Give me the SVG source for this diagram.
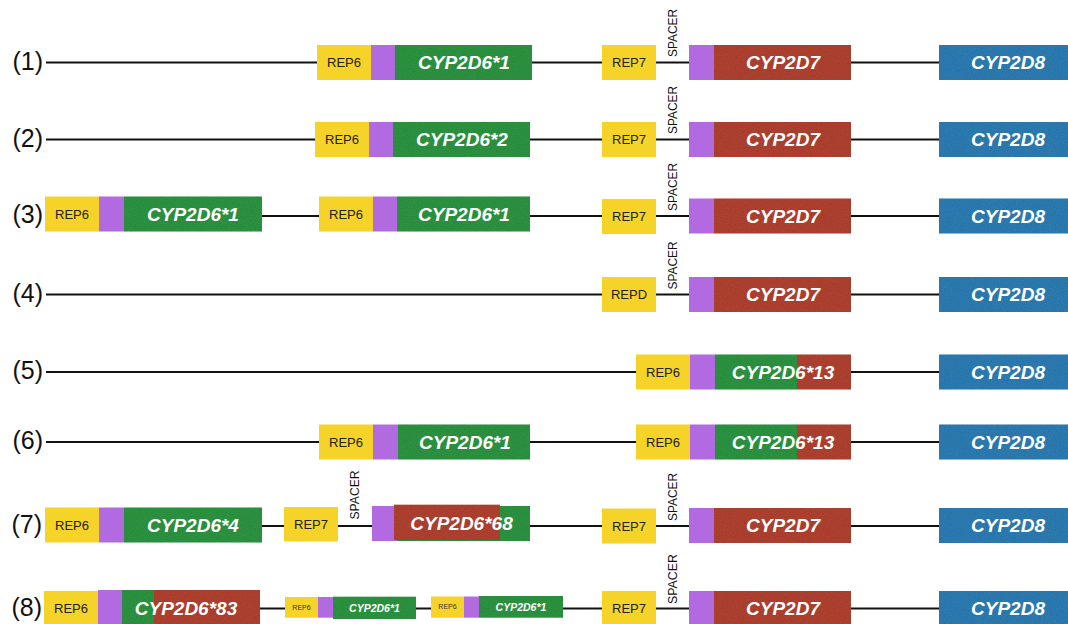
<svg xmlns="http://www.w3.org/2000/svg" width="1068" height="624" viewBox="0 0 1068 624">
  <defs>
    <!-- light grain on the gene blocks -->
    <filter id="grain" x="0" y="0" width="1" height="1">
      <feTurbulence type="fractalNoise" baseFrequency="0.85" numOctaves="2" seed="7" result="noise"/>
      <feColorMatrix in="noise" type="matrix" values="0 0 0 0 0  0 0 0 0 0  0 0 0 0 0  0.35 0 0 0 -0.1" result="speck"/>
      <feComposite in="speck" in2="SourceGraphic" operator="in" result="clip"/>
      <feMerge><feMergeNode in="SourceGraphic"/><feMergeNode in="clip"/></feMerge>
    </filter>
  </defs>
  <style>
    text { font-family: "Liberation Sans", Arial, Helvetica, sans-serif; }
    .row { font-size: 25px; fill: #111; text-anchor: end; }
    .rep { fill: #f5d328; }
    .lnk { fill: #b26ae1; }
    .g6 { fill: #2f9442; filter: url(#grain); }
    .d7 { fill: #b04332; filter: url(#grain); }
    .d8 { fill: #2f7db3; filter: url(#grain); }
    .rt { font-size: 13px; fill: #222; text-anchor: middle; }
    .rts { font-size: 7px; fill: #333; text-anchor: middle; }
    .gt { font-size: 19px; font-weight: bold; font-style: italic; fill: #fff; text-anchor: middle; }
    .gts { font-size: 10.5px; font-weight: bold; font-style: italic; fill: #fff; text-anchor: middle; }
    .sp { font-size: 13px; fill: #111; text-anchor: start; }
    .wire { stroke: #111; stroke-width: 2.2; fill: none; }
  </style>
  <rect width="1068" height="624" fill="#fff"/>

  <!-- row numbers -->
  <g id="row-labels">
    <text class="row" x="43" y="69.5">(1)</text>
    <text class="row" x="43" y="146.5">(2)</text>
    <text class="row" x="43" y="223">(3)</text>
    <text class="row" x="43" y="301.5">(4)</text>
    <text class="row" x="43" y="379">(5)</text>
    <text class="row" x="43" y="449">(6)</text>
    <text class="row" x="42" y="533">(7)</text>
    <text class="row" x="42" y="615.5">(8)</text>
  </g>

  <!-- backbone lines, drawn under the blocks -->
  <g id="connectors">
    <line class="wire" x1="46" y1="62.5" x2="940" y2="62.5"/>
    <line class="wire" x1="46" y1="139.5" x2="940" y2="139.5"/>
    <line class="wire" x1="60" y1="216" x2="940" y2="216"/>
    <line class="wire" x1="46" y1="294.5" x2="940" y2="294.5"/>
    <line class="wire" x1="46" y1="372" x2="940" y2="372"/>
    <line class="wire" x1="46" y1="442" x2="940" y2="442"/>
    <line class="wire" x1="60" y1="526" x2="940" y2="526"/>
    <line class="wire" x1="60" y1="608.5" x2="940" y2="608.5"/>
  </g>

  <!-- row 1 -->
  <g id="r1-rep6"><rect class="rep" x="317" y="45" width="54" height="35"/><text class="rt" x="344" y="67">REP6</text></g>
  <g id="r1-cyp2d6"><rect class="lnk" x="371" y="45" width="24" height="35"/><rect class="g6" x="395" y="45" width="137" height="35"/><text class="gt" x="464" y="69.3">CYP2D6*1</text></g>
  <g id="r1-rep7"><rect class="rep" x="602" y="45" width="54" height="35"/><text class="rt" x="629" y="67">REP7</text></g>
  <g id="r1-spacer"><text class="sp" transform="translate(676.5 57) rotate(-90)" textLength="48" lengthAdjust="spacingAndGlyphs">SPACER</text></g>
  <g id="r1-cyp2d7"><rect class="lnk" x="689" y="45" width="25" height="35"/><rect class="d7" x="714" y="45" width="137" height="35"/><text class="gt" x="783" y="69.3">CYP2D7</text></g>
  <g id="r1-cyp2d8"><rect class="d8" x="939" y="45" width="129" height="35"/><text class="gt" x="1008" y="69.3">CYP2D8</text></g>

  <!-- row 2 -->
  <g id="r2-rep6"><rect class="rep" x="315" y="122" width="54" height="35"/><text class="rt" x="342" y="144">REP6</text></g>
  <g id="r2-cyp2d6"><rect class="lnk" x="369" y="122" width="24" height="35"/><rect class="g6" x="393" y="122" width="137" height="35"/><text class="gt" x="462" y="146.3">CYP2D6*2</text></g>
  <g id="r2-rep7"><rect class="rep" x="602" y="122" width="54" height="35"/><text class="rt" x="629" y="144">REP7</text></g>
  <g id="r2-spacer"><text class="sp" transform="translate(676.5 134) rotate(-90)" textLength="48" lengthAdjust="spacingAndGlyphs">SPACER</text></g>
  <g id="r2-cyp2d7"><rect class="lnk" x="689" y="122" width="25" height="35"/><rect class="d7" x="714" y="122" width="137" height="35"/><text class="gt" x="783" y="146.3">CYP2D7</text></g>
  <g id="r2-cyp2d8"><rect class="d8" x="939" y="122" width="129" height="35"/><text class="gt" x="1008" y="146.3">CYP2D8</text></g>

  <!-- row 3 -->
  <g id="r3-rep6a"><rect class="rep" x="45" y="196.5" width="54" height="35"/><text class="rt" x="72" y="218.5">REP6</text></g>
  <g id="r3-cyp2d6a"><rect class="lnk" x="99" y="196.5" width="25" height="35"/><rect class="g6" x="124" y="196.5" width="138" height="35"/><text class="gt" x="193" y="220.8">CYP2D6*1</text></g>
  <g id="r3-rep6b"><rect class="rep" x="319" y="196.5" width="54" height="35"/><text class="rt" x="346" y="218.5">REP6</text></g>
  <g id="r3-cyp2d6b"><rect class="lnk" x="373" y="196.5" width="24" height="35"/><rect class="g6" x="397" y="196.5" width="133" height="35"/><text class="gt" x="464" y="220.8">CYP2D6*1</text></g>
  <g id="r3-rep7"><rect class="rep" x="602" y="199" width="54" height="35"/><text class="rt" x="629" y="221">REP7</text></g>
  <g id="r3-spacer"><text class="sp" transform="translate(676.5 211) rotate(-90)" textLength="48" lengthAdjust="spacingAndGlyphs">SPACER</text></g>
  <g id="r3-cyp2d7"><rect class="lnk" x="689" y="198.5" width="25" height="35"/><rect class="d7" x="714" y="198.5" width="137" height="35"/><text class="gt" x="783" y="222.8">CYP2D7</text></g>
  <g id="r3-cyp2d8"><rect class="d8" x="939" y="198.5" width="129" height="35"/><text class="gt" x="1008" y="222.8">CYP2D8</text></g>

  <!-- row 4 -->
  <g id="r4-repd"><rect class="rep" x="602" y="277" width="54" height="35"/><text class="rt" x="629" y="299">REPD</text></g>
  <g id="r4-spacer"><text class="sp" transform="translate(676.5 289.5) rotate(-90)" textLength="48" lengthAdjust="spacingAndGlyphs">SPACER</text></g>
  <g id="r4-cyp2d7"><rect class="lnk" x="689" y="277" width="25" height="35"/><rect class="d7" x="714" y="277" width="137" height="35"/><text class="gt" x="783" y="301.3">CYP2D7</text></g>
  <g id="r4-cyp2d8"><rect class="d8" x="939" y="277" width="129" height="35"/><text class="gt" x="1008" y="301.3">CYP2D8</text></g>

  <!-- row 5 -->
  <g id="r5-rep6"><rect class="rep" x="636" y="354.5" width="54" height="35"/><text class="rt" x="663" y="376.5">REP6</text></g>
  <g id="r5-cyp2d6-13"><rect class="lnk" x="690" y="354.5" width="25" height="35"/><rect class="g6" x="715" y="354.5" width="82" height="35"/><rect class="d7" x="797" y="354.5" width="54" height="35"/><text class="gt" x="783" y="378.8">CYP2D6*13</text></g>
  <g id="r5-cyp2d8"><rect class="d8" x="939" y="354.5" width="129" height="35"/><text class="gt" x="1008" y="378.8">CYP2D8</text></g>

  <!-- row 6 -->
  <g id="r6-rep6a"><rect class="rep" x="319" y="424.5" width="54" height="35"/><text class="rt" x="346" y="446.5">REP6</text></g>
  <g id="r6-cyp2d6"><rect class="lnk" x="373" y="424.5" width="25" height="35"/><rect class="g6" x="398" y="424.5" width="132" height="35"/><text class="gt" x="465" y="448.8">CYP2D6*1</text></g>
  <g id="r6-rep6b"><rect class="rep" x="636" y="424.5" width="54" height="35"/><text class="rt" x="663" y="446.5">REP6</text></g>
  <g id="r6-cyp2d6-13"><rect class="lnk" x="690" y="424.5" width="25" height="35"/><rect class="g6" x="715" y="424.5" width="82" height="35"/><rect class="d7" x="797" y="424.5" width="54" height="35"/><text class="gt" x="783" y="448.8">CYP2D6*13</text></g>
  <g id="r6-cyp2d8"><rect class="d8" x="939" y="424.5" width="129" height="35"/><text class="gt" x="1008" y="448.8">CYP2D8</text></g>

  <!-- row 7 -->
  <g id="r7-rep6"><rect class="rep" x="45" y="507.5" width="54" height="35"/><text class="rt" x="72" y="529.5">REP6</text></g>
  <g id="r7-cyp2d6-4"><rect class="lnk" x="99" y="507.5" width="25" height="35"/><rect class="g6" x="124" y="507.5" width="138" height="35"/><text class="gt" x="193" y="531.8">CYP2D6*4</text></g>
  <g id="r7-rep7a"><rect class="rep" x="284" y="507" width="54" height="34.5"/><text class="rt" x="311" y="528.8">REP7</text></g>
  <g id="r7-spacer-a"><text class="sp" transform="translate(358.5 519.5) rotate(-90)" textLength="49" lengthAdjust="spacingAndGlyphs">SPACER</text></g>
  <g id="r7-cyp2d6-68"><rect class="lnk" x="372" y="506" width="25" height="35"/><rect class="g6" x="397" y="506" width="133" height="35"/><rect class="d7" x="394" y="504.7" width="106" height="35.3"/><text class="gt" x="461.5" y="530">CYP2D6*68</text></g>
  <g id="r7-rep7b"><rect class="rep" x="602" y="508.5" width="54" height="35"/><text class="rt" x="629" y="530.5">REP7</text></g>
  <g id="r7-spacer-b"><text class="sp" transform="translate(676.5 521) rotate(-90)" textLength="48" lengthAdjust="spacingAndGlyphs">SPACER</text></g>
  <g id="r7-cyp2d7"><rect class="lnk" x="689" y="508" width="25" height="35"/><rect class="d7" x="714" y="508" width="137" height="35"/><text class="gt" x="783" y="532.3">CYP2D7</text></g>
  <g id="r7-cyp2d8"><rect class="d8" x="939" y="508" width="129" height="35"/><text class="gt" x="1008" y="532.3">CYP2D8</text></g>

  <!-- row 8 -->
  <g id="r8-rep6"><rect class="rep" x="44" y="591" width="54" height="35"/><text class="rt" x="71" y="613">REP6</text></g>
  <g id="r8-cyp2d6-83"><rect class="lnk" x="98" y="590" width="24" height="36"/><rect class="g6" x="122" y="590" width="32" height="36"/><rect class="d7" x="154" y="590" width="106" height="36"/><text class="gt" x="186" y="615">CYP2D6*83</text></g>
  <g id="r8-rep6-s1"><rect class="rep" x="285" y="597" width="33" height="20.7"/><text class="rts" x="301.5" y="609.7">REP6</text></g>
  <g id="r8-cyp2d6-s1"><rect class="lnk" x="318" y="597" width="15" height="20.7"/><rect class="g6" x="333" y="596.7" width="83" height="22.3"/><text class="gts" x="374.5" y="611.5">CYP2D6*1</text></g>
  <g id="r8-rep6-s2"><rect class="rep" x="431" y="596.5" width="33" height="21.2"/><text class="rts" x="447.5" y="609.4">REP6</text></g>
  <g id="r8-cyp2d6-s2"><rect class="lnk" x="464" y="596.5" width="15" height="21.2"/><rect class="g6" x="479" y="596" width="84" height="21.7"/><text class="gts" x="521" y="610.8">CYP2D6*1</text></g>
  <g id="r8-rep7"><rect class="rep" x="602" y="591" width="54" height="35"/><text class="rt" x="629" y="613">REP7</text></g>
  <g id="r8-spacer"><text class="sp" transform="translate(676.5 604) rotate(-90)" textLength="50" lengthAdjust="spacingAndGlyphs">SPACER</text></g>
  <g id="r8-cyp2d7"><rect class="lnk" x="689" y="591" width="25" height="35"/><rect class="d7" x="714" y="591" width="137" height="35"/><text class="gt" x="783" y="615.3">CYP2D7</text></g>
  <g id="r8-cyp2d8"><rect class="d8" x="939" y="591" width="129" height="35"/><text class="gt" x="1008" y="615.3">CYP2D8</text></g>
</svg>
